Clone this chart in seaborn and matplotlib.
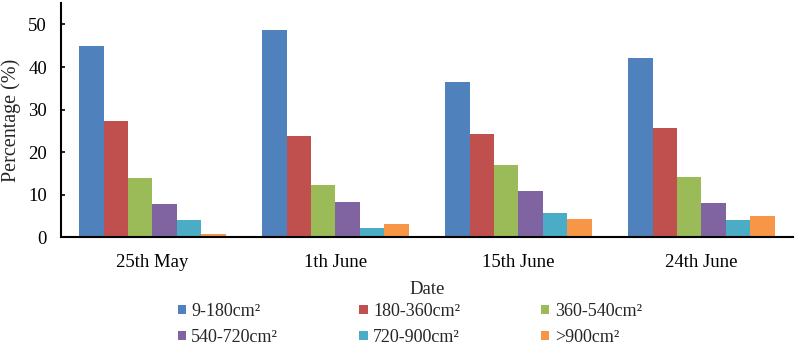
import pandas as pd
import seaborn as sns
import matplotlib.pyplot as plt

sns.set_theme(style="white")
plt.rcParams['font.family'] = ['Liberation Serif', 'DejaVu Serif']

# Data
dates = ['25th May', '1th June', '15th June', '24th June']
size_classes = ['9-180cm²', '180-360cm²', '360-540cm²',
                '540-720cm²', '720-900cm²', '>900cm²']
pct_9_180 = [45.0, 48.8, 36.6, 42.2]
pct_180_360 = [27.3, 23.9, 24.3, 25.7]
pct_360_540 = [14.0, 12.4, 17.0, 14.2]
pct_540_720 = [7.8, 8.4, 11.0, 8.2]
pct_720_900 = [4.0, 2.3, 5.7, 4.0]
pct_900_up = [0.9, 3.2, 4.3, 5.0]

series = [pct_9_180, pct_180_360, pct_360_540, pct_540_720, pct_720_900, pct_900_up]
rows = []
for cls, vals in zip(size_classes, series):
    for d, v in zip(dates, vals):
        rows.append({'Date': d, 'Class': cls, 'Percentage': v})
df = pd.DataFrame(rows)

colors = ['#4F81BD', '#C0504D', '#9BBB59', '#8064A2', '#4BACC6', '#F79646']

fig = plt.figure(figsize=(7.96, 3.45), dpi=100)
ax = fig.add_axes([0.0766, 0.3116, 0.9194, 0.6794])

sns.barplot(data=df, x='Date', y='Percentage', hue='Class', order=dates,
            hue_order=size_classes, palette=colors, saturation=1,
            errorbar=None, width=0.8, linewidth=0, ax=ax)

ax.set_xlim(-0.5, 3.5)
ax.set_ylim(0, 55)
ax.set_yticks([0, 10, 20, 30, 40, 50])
ax.set_xlabel('Date', fontsize=13.5, labelpad=7)
ax.set_ylabel('Percentage (%)', fontsize=14.5, labelpad=5)

for loc, spine in ax.spines.items():
    if loc in ['left', 'bottom']:
        spine.set_color('black')
        spine.set_linewidth(1.5)
    else:
        spine.set_visible(False)
ax.tick_params(axis='y', length=3, width=1.2, direction='in', labelsize=13.5,
               pad=10, colors='black', left=True)
ax.tick_params(axis='x', length=3, width=1.2, direction='in', labelsize=13.5,
               pad=12, colors='black', bottom=True)

# Legend, row-major order in 3 columns
handles, labels = ax.get_legend_handles_labels()
order = [0, 3, 1, 4, 2, 5]
ax.legend([handles[i] for i in order], [labels[i] for i in order],
          ncol=3, loc='upper left', bbox_to_anchor=(0.212, 0.148),
          bbox_transform=fig.transFigure, frameon=False, fontsize=13,
          handlelength=0.45, handleheight=0.45, handletextpad=0.3,
          columnspacing=4.5, labelspacing=0.5, borderpad=0)

fig.savefig('out.png', dpi=100)
